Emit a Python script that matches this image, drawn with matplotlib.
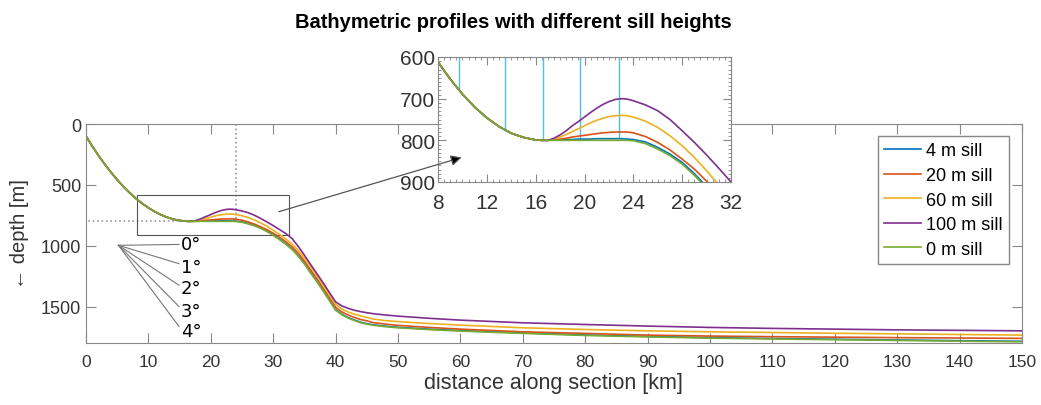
import numpy as np
import matplotlib.pyplot as plt
from matplotlib.patches import Rectangle
from matplotlib.ticker import MultipleLocator

plt.rcParams['font.family'] = ['Liberation Sans', 'DejaVu Sans']

# distance along section [km]; the upper slope (0-16.5 km) is shared by all profiles
dist_head = [0, 1, 2, 3, 4, 5, 6, 7, 8, 9, 10, 11, 12, 13, 14, 15, 16, 16.5]
dist_tail = [17, 17.5, 18, 18.5, 19, 19.5, 20, 20.5, 21, 21.5, 22, 22.5, 23, 23.5, 24,
             25, 26, 27, 28, 29, 30, 31, 32, 33, 34, 35, 36, 37, 38, 39, 40, 41, 42, 43, 44, 45, 46,
             48, 50, 55, 60, 70, 80, 90, 100, 110, 120, 130, 140, 150]

depth_head = [100, 182, 259, 330, 397, 458, 515, 566, 612, 653, 689, 720, 746, 767, 783, 793, 799, 800]

depth_4 = [800, 799, 799, 798, 798, 797, 797, 797, 796, 796, 796, 796, 796, 797, 798,
           804, 817, 833, 853, 880, 911, 946, 984, 1026, 1081, 1146, 1221, 1291, 1368, 1446, 1526,
           1564, 1591, 1611, 1629, 1641, 1650,
           1662, 1671, 1686, 1698, 1717, 1734, 1746, 1756, 1763, 1769, 1775, 1781, 1786]
depth_20 = [800, 799, 797, 795, 792, 790, 788, 786, 784, 782, 781, 780, 780, 780, 782,
            791, 805, 823, 845, 869, 898, 930, 967, 1008, 1062, 1126, 1200, 1272, 1350, 1428, 1506,
            1545, 1570, 1590, 1607, 1618, 1632,
            1645, 1655, 1672, 1686, 1708, 1721, 1735, 1743, 1748, 1752, 1756, 1759, 1762]
depth_60 = [800, 797, 792, 786, 779, 772, 765, 758, 752, 747, 743, 741, 740, 741, 744,
            754, 769, 789, 813, 841, 873, 907, 945, 985, 1038, 1100, 1172, 1245, 1323, 1400, 1480,
            1522, 1545, 1563, 1578, 1590, 1603,
            1616, 1624, 1640, 1653, 1675, 1689, 1700, 1708, 1714, 1720, 1725, 1730, 1735]
depth_100 = [800, 795, 787, 777, 765, 755, 744, 733, 723, 714, 707, 702, 700, 701, 705,
             715, 729, 750, 777, 805, 835, 867, 900, 940, 1005, 1078, 1155, 1230, 1305, 1385, 1462,
             1495, 1515, 1531, 1542, 1551, 1559,
             1570, 1579, 1597, 1612, 1634, 1648, 1661, 1672, 1680, 1686, 1692, 1696, 1700]
depth_0 = [800, 800, 800, 800, 800, 800, 800, 800, 800, 800, 800, 800, 800, 800, 801,
           808, 821, 837, 857, 884, 915, 950, 988, 1030, 1085, 1150, 1225, 1295, 1372, 1450, 1530,
           1568, 1595, 1615, 1633, 1645, 1654,
           1666, 1675, 1690, 1702, 1721, 1738, 1750, 1760, 1767, 1773, 1779, 1785, 1790]

labels = ['4 m sill', '20 m sill', '60 m sill', '100 m sill', '0 m sill']
colors = ['#0072BD', '#D95319', '#EDB120', '#7E2F8E', '#77AC30']

# section positions shown in the zoom panel
section_x = [9.7, 13.5, 16.6, 19.6, 22.8]
section_bottom = [682, 777, 800, 798, 796]

# slope angle sketch
angle_labels = ['0°', '1°', '2°', '3°', '4°']
angle_end = [990, 1148, 1325, 1500, 1664]
angle_text = [989, 1172, 1352, 1533, 1705]

distance = np.array(dist_head + dist_tail)
profiles = [np.array(depth_head + d) for d in (depth_4, depth_20, depth_60, depth_100, depth_0)]

W, H = 1041, 406
fig = plt.figure(figsize=(W / 100, H / 100), dpi=100)
ax = fig.add_axes([86 / W, 1 - 344 / H, 936 / W, 219 / H])

for d, lab, c in zip(profiles, labels, colors):
    ax.plot(distance, d, color=c, lw=1.2, label=lab)

ax.set_xlim(0, 150)
ax.set_ylim(1800, 0)
ax.set_xticks(range(0, 151, 10))
ax.set_yticks([0, 500, 1000, 1500])
ax.tick_params(direction='in', length=7, top=True, right=True, color='#888888',
               labelcolor='#333333', labelsize=13)
ax.tick_params(axis='x', labelsize=12.5, pad=8)
for s in ax.spines.values():
    s.set_color('#888888')

ax.add_patch(Rectangle((0, 0), 24, 800, fill=False, ls=':', ec='#999999', lw=1.2))
ax.add_patch(Rectangle((8.2, 582), 24.4, 333, fill=False, ec='#555555', lw=0.8))

for lab, ye, yt in zip(angle_labels, angle_end, angle_text):
    ax.plot([5.2, 14.9], [997, ye], color='#777777', lw=0.8)
    ax.text(15.2, yt, lab, family='DejaVu Sans', fontsize=13, color='black',
            va='center', ha='left')

ax.legend(loc='upper right', bbox_to_anchor=(0.986, 0.945), fontsize=13, frameon=True,
          fancybox=False, edgecolor='#888888', framealpha=1, handlelength=2.05,
          handletextpad=0.25, labelspacing=0.42, borderpad=0.35, borderaxespad=0)

# zoom panel
ins = fig.add_axes([438 / W, 1 - 183 / H, 293 / W, 125 / H])
ins.set_zorder(5)
ins.set_facecolor('white')
ins.vlines(section_x, 600, section_bottom, color='#4DBEEE', lw=1.0)
for d, c in zip(profiles, colors):
    ins.plot(distance, d, color=c, lw=1.2)
ins.set_xlim(8, 32)
ins.set_ylim(900, 600)
ins.set_xticks(range(8, 33, 4))
ins.set_yticks([600, 700, 800, 900])
ins.xaxis.set_minor_locator(MultipleLocator(0.5))
ins.yaxis.set_minor_locator(MultipleLocator(10))
ins.tick_params(which='both', direction='in', top=True, right=True, color='#888888',
                labelcolor='#333333', labelsize=15)
ins.tick_params(which='major', length=6)
ins.tick_params(which='minor', length=2.5)
ins.tick_params(axis='x', pad=8)
ins.tick_params(axis='y', pad=2)
for s in ins.spines.values():
    s.set_color('#888888')

ins.annotate('', xy=(9.94, 841), xycoords='data', xytext=(30.9, 721), textcoords=ax.transData,
             arrowprops=dict(arrowstyle='-|>', ec='#555555', fc='black', lw=0.9,
                             mutation_scale=16, shrinkA=0, shrinkB=0),
             annotation_clip=False)

fig.text(513 / W, 1 - 22 / H, 'Bathymetric profiles with different sill heights',
         ha='center', va='center', weight='bold', fontsize=14.5)
fig.text(20 / W, 1 - 234 / H, '← depth [m]', rotation=90, ha='center', va='center',
         fontsize=14.5, color='#333333')
fig.text(553 / W, 1 - 384 / H, 'distance along section [km]', ha='center', va='center',
         fontsize=15.5, color='#333333')

fig.savefig('out.png', dpi=100)
